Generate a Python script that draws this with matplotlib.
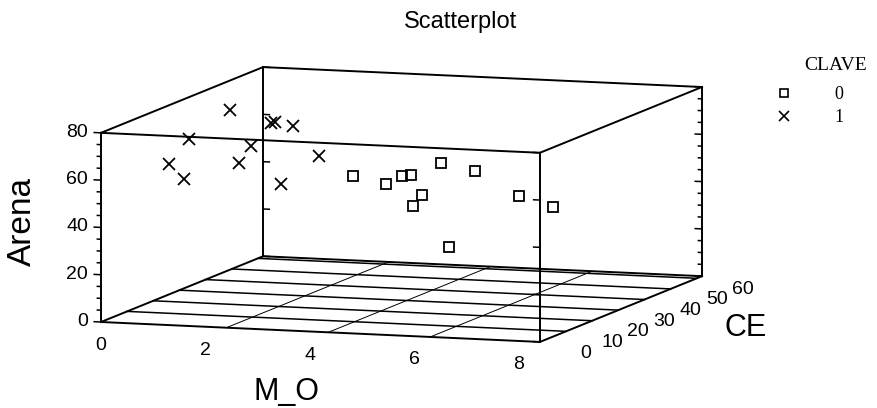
import matplotlib
matplotlib.use("Agg")
import matplotlib.pyplot as plt
from matplotlib.lines import Line2D
from mpl_toolkits.mplot3d import proj3d

# data (CE depth is a guess, only 2D is visible)
mo_1 = [0.46, 0.68, 0.80, 0.98, 2.25, 2.12, 1.50, 1.43, 1.42, 2.85, 2.93]
ce_1 = [40, 20, 10, 12, 8, 15, 35, 38, 45, 12, 25]
arena_1 = [72, 69, 63, 56, 66, 70, 70, 69, 64, 56, 62]

mo_0 = [4.07, 4.46, 4.51, 4.54, 5.04, 5.48, 4.51, 5.66, 6.75, 6.90, 5.91]
ce_0 = [15, 20, 25, 28, 22, 10, 40, 30, 25, 35, 15]
arena_0 = [59, 54, 55, 54, 49, 50, 54, 56, 49, 40, 31]

x_ticks = [0, 2, 4, 6, 8]
ce_ticks = [0, 10, 20, 30, 40, 50, 60]
z_ticks = [0, 20, 40, 60, 80]
floor_x = [2.4, 4.35, 6.3]

XMAX, YMAX, ZMAX = 8.4, 62, 80
W, H = 877, 408

fig = plt.figure(figsize=(W / 100, H / 100), dpi=100)
ax = fig.add_axes([0.0, -0.5, 1.0, 2.0], projection="3d")
ax.set_proj_type("ortho")
ax.view_init(elev=7.8, azim=-71.5)
ax.set_box_aspect((463, 511, 191))
ax.set_xlim(0, XMAX)
ax.set_ylim(0, YMAX)
ax.set_zlim(0, ZMAX)
ax.set_axis_off()

k = dict(color="black", lw=1.4)
# box edges
for y0 in (0, YMAX):
    for z0 in (0, ZMAX):
        ax.plot([0, XMAX], [y0, y0], [z0, z0], **k)
for x0 in (0, XMAX):
    for z0 in (0, ZMAX):
        ax.plot([x0, x0], [0, YMAX], [z0, z0], **k)
for x0 in (0, XMAX):
    for y0 in (0, YMAX):
        ax.plot([x0, x0], [y0, y0], [0, ZMAX], **k)

# floor grid
for c in ce_ticks[1:]:
    ax.plot([0, XMAX], [c, c], [0, 0], color="black", lw=1.1)
for fx in floor_x:
    ax.plot([fx, fx], [0, YMAX], [0, 0], color="black", lw=0.7)

# tick marks on the vertical edges
for v in range(0, ZMAX + 1, 5):
    big = v % 20 == 0
    t = 0.13 if big else 0.07
    ax.plot([0, -t], [0, 0], [v, v], color="black", lw=1.1)
    ax.plot([XMAX, XMAX - t], [YMAX, YMAX], [v, v], color="black", lw=1.1)
    if big:
        ax.plot([0, 0.12], [YMAX, YMAX], [v, v], color="black", lw=1.1)
        ax.plot([XMAX, XMAX - 0.12], [0, 0], [v, v], color="black", lw=1.1)

ax.plot(mo_0, ce_0, arena_0, linestyle="none", marker="s", markersize=7,
        markerfacecolor="none", markeredgecolor="black", markeredgewidth=1.3)
ax.plot(mo_1, ce_1, arena_1, linestyle="none", marker="x", markersize=9,
        color="black", markeredgewidth=1.3)

sans = ["Liberation Sans", "DejaVu Sans"]
fig.text(461 / W, 1 - 22 / H, "Scatterplot", ha="center", va="center", family=sans, size=17)
fig.text(22 / W, 1 - 221 / H, "Arena", ha="center", va="center", rotation=90, family=sans, size=24)
fig.text(287 / W, 1 - 392 / H, "M_O", ha="center", va="center", family=sans, size=22)
fig.text(746 / W, 1 - 328 / H, "CE", ha="center", va="center", family=sans, size=22)

serif = ["Liberation Serif", "DejaVu Serif"]
fig.text(836 / W, 1 - 65 / H, "CLAVE", ha="center", va="center", family=serif, size=14)
handles = [
    Line2D([], [], linestyle="none", marker="s", markersize=6, markerfacecolor="none",
           markeredgecolor="black", markeredgewidth=1.2),
    Line2D([], [], linestyle="none", marker="x", markersize=7, color="black",
           markeredgewidth=1.2),
]
fig.legend(handles, ["0", "1"], loc="upper left", bbox_to_anchor=(775 / W, 1 - 86 / H),
           frameon=False, borderpad=0, borderaxespad=0, handlelength=1.0,
           handletextpad=2.3, labelspacing=0.35, prop=dict(family=serif, size=13))


# fit the projected box onto the picture's box position
def px(x, y, z):
    xs, ys, _ = proj3d.proj_transform(x, y, z, ax.get_proj())
    return ax.transData.transform((xs, ys))


fig.canvas.draw()
a, b = px(0, 0, 0), px(XMAX, YMAX, ZMAX)
s = (702 - 101) / (b[0] - a[0])
pos = ax.get_position(original=True)
cx, cy = pos.x0 + pos.width / 2, pos.y0 + pos.height / 2
ax.set_position([cx - pos.width * s / 2, cy - pos.height * s / 2, pos.width * s, pos.height * s])
fig.canvas.draw()
a = px(0, 0, 0)
pos = ax.get_position(original=True)
ax.set_position([pos.x0 + (101 - a[0]) / W, pos.y0 + ((H - 322) - a[1]) / H, pos.width, pos.height])
fig.canvas.draw()

# tick labels, placed where the 3D points land on the figure
tick_font = dict(family=["Liberation Sans Narrow", "Liberation Sans", "DejaVu Sans"], size=14)


def label(x, y, z, txt, ha):
    p = px(x, y, z)
    fig.text(p[0] / W, p[1] / H, txt, ha=ha, va="center", **tick_font)


for v in x_ticks:
    label(v, 0, -10, str(v), "center")
for v in z_ticks:
    label(-0.25, 0, v, str(v), "right")
for v in ce_ticks:
    label(XMAX + 0.88, v, -3.8, str(v), "center")

fig.savefig("out.png", dpi=100)
